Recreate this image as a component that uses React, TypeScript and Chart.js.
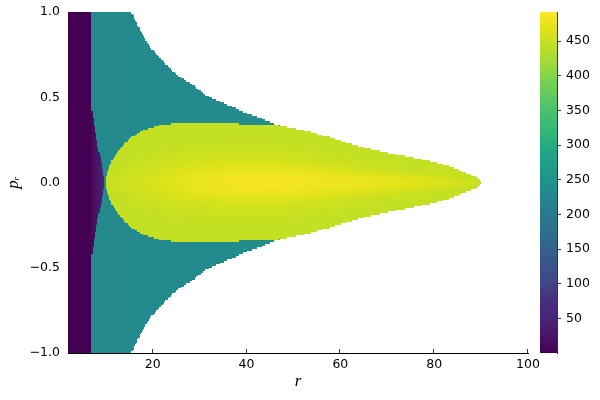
import React, { useEffect, useRef } from "react";
import { Chart, registerables } from "chart.js";

Chart.register(...registerables);

// ---------- axes / ticks ----------
const R_MIN = 1.94;
const R_MAX = 100;
const P_MIN = -1;
const P_MAX = 1;
const X_TICKS = [20, 40, 60, 80, 100];
const Y_TICKS = [-1, -0.5, 0, 0.5, 1];
const CB_TICKS = [50, 100, 150, 200, 250, 300, 350, 400, 450];
const CB_MIN = 0.4;
const CB_MAX = 491.8;

// ---------- heatmap data ----------
// cell grid resolution
const R_STEP = 0.25;
const P_STEP = 0.01;

// dark purple block for small r
const PURPLE_EDGE_R = 6.84;
const PURPLE_VALUE = 1;

// purple wedge: upper |p| edge vs r and its value
const WEDGE_R = [6.84, 7.4, 8.06, 8.6, 9.13, 9.5, 9.75];
const WEDGE_P = [0.46, 0.36, 0.25, 0.17, 0.11, 0.05, 0.0];
const WEDGE_VAL = [6, 14, 24, 33, 42, 50, 55];

// teal region: upper |p| edge vs r and its value
const OUTER_R = [15.4, 17.3, 19.4, 22.3, 25.1, 28.0, 31.5, 34.4, 37.2, 40.0, 42.9, 45.7, 47.2];
const OUTER_P = [1.0, 0.894, 0.796, 0.709, 0.63, 0.582, 0.51, 0.474, 0.441, 0.406, 0.377, 0.347, 0.336];
const TEAL_R = [6.84, 30, 40, 47.2];
const TEAL_VAL = [230, 232, 236, 242];

// yellow region: upper |p| edge vs r
const YEL_R = [9.83, 10.0, 10.3, 10.8, 11.6, 12.5, 13.5, 15.2, 18.0, 21.6, 24.4, 30, 37, 41.4, 46.5, 50.0, 52.8, 55.7, 58.5, 62, 65.6, 72.7, 79.8, 84, 86.9, 89.1, 90.1];
const YEL_P = [0.0, 0.03, 0.06, 0.1, 0.145, 0.18, 0.213, 0.259, 0.308, 0.337, 0.347, 0.349, 0.347, 0.341, 0.337, 0.318, 0.302, 0.279, 0.259, 0.229, 0.2, 0.161, 0.122, 0.088, 0.054, 0.034, 0.0];
// yellow values along the centre line (p = 0) and at the edge
const YC_R = [9.83, 15, 20, 25, 30, 40, 50, 60, 70, 80, 88, 90.1];
const YC_VAL = [450, 455, 462, 470, 478, 486, 485, 480, 474, 466, 456, 450];
const YEL_EDGE_VAL = 447;
// falloff from centre (t = |p| / edge) to edge
const PROF_T = [0, 0.1, 0.2, 0.3, 0.4, 0.55, 0.7, 1];
const PROF_W = [1, 0.93, 0.75, 0.5, 0.3, 0.12, 0.04, 0];

// ---------- colormap (viridis) ----------
const VIRIDIS = [
  "#440154", "#481467", "#482475", "#472d7b", "#414487", "#3b528b", "#355f8d",
  "#2d708e", "#2a788e", "#25858e", "#21918c", "#1f9e89", "#22a884", "#35b779",
  "#44bf70", "#5ec962", "#7ad151", "#a0da39", "#bddf26", "#dfe318", "#fde725",
];
const VIR_RGB = VIRIDIS.map((h) => [
  parseInt(h.slice(1, 3), 16),
  parseInt(h.slice(3, 5), 16),
  parseInt(h.slice(5, 7), 16),
]);
const colorCache = new Map<number, string>();
function colorFor(v: number): string {
  let t = (v - CB_MIN) / (CB_MAX - CB_MIN);
  t = Math.max(0, Math.min(1, t));
  const key = Math.round(t * 2000);
  const c = colorCache.get(key);
  if (c) return c;
  const f = (key / 2000) * (VIR_RGB.length - 1);
  const i = Math.min(VIR_RGB.length - 2, Math.floor(f));
  const u = f - i;
  const a = VIR_RGB[i], b = VIR_RGB[i + 1];
  const s = `rgb(${Math.round(a[0] + (b[0] - a[0]) * u)},${Math.round(a[1] + (b[1] - a[1]) * u)},${Math.round(a[2] + (b[2] - a[2]) * u)})`;
  colorCache.set(key, s);
  return s;
}

function interp(xs: number[], ys: number[], x: number): number {
  if (x <= xs[0]) return ys[0];
  const n = xs.length - 1;
  if (x >= xs[n]) return ys[n];
  for (let i = 0; i < n; i++) {
    if (x >= xs[i] && x <= xs[i + 1]) {
      const u = (x - xs[i]) / (xs[i + 1] - xs[i]);
      return ys[i] + (ys[i + 1] - ys[i]) * u;
    }
  }
  return ys[n];
}

function cellValue(r: number, p: number): number | null {
  const ap = Math.abs(p);
  if (r < PURPLE_EDGE_R) return PURPLE_VALUE;
  if (r >= YEL_R[0] && r <= YEL_R[YEL_R.length - 1]) {
    const yp = interp(YEL_R, YEL_P, r);
    if (ap <= yp) {
      const t = yp > 0 ? ap / yp : 0;
      const w = interp(PROF_T, PROF_W, t);
      const vc = interp(YC_R, YC_VAL, r);
      return YEL_EDGE_VAL + (vc - YEL_EDGE_VAL) * w;
    }
  }
  if (r <= WEDGE_R[WEDGE_R.length - 1]) {
    const wp = interp(WEDGE_R, WEDGE_P, r);
    if (ap <= wp) return interp(WEDGE_R, WEDGE_VAL, r);
  }
  if (r <= OUTER_R[OUTER_R.length - 1]) {
    const op = interp(OUTER_R, OUTER_P, r);
    if (ap <= op) return interp(TEAL_R, TEAL_VAL, r);
  }
  return null;
}

const heatmapPlugin = {
  id: "heatmap",
  beforeDatasetsDraw(chart: any) {
    const { ctx, chartArea } = chart;
    const xs = chart.scales.x;
    const ys = chart.scales.y;
    ctx.save();
    ctx.beginPath();
    ctx.rect(chartArea.left, chartArea.top, chartArea.right - chartArea.left, chartArea.bottom - chartArea.top);
    ctx.clip();
    const nR = Math.ceil((R_MAX - R_MIN) / R_STEP);
    const nP = Math.round((P_MAX - P_MIN) / P_STEP);
    const rowEdges: number[] = [];
    for (let j = 0; j <= nP; j++) rowEdges.push(Math.round(ys.getPixelForValue(P_MIN + j * P_STEP)));
    for (let i = 0; i < nR; i++) {
      const r0 = R_MIN + i * R_STEP;
      const r1 = Math.min(R_MAX, r0 + R_STEP);
      const rc = (r0 + r1) / 2;
      const x0 = Math.round(xs.getPixelForValue(r0));
      const x1 = Math.round(xs.getPixelForValue(r1));
      if (x1 <= x0) continue;
      let runColor: string | null = null;
      let runBottom = 0;
      let runTop = 0;
      for (let j = 0; j < nP; j++) {
        const pc = P_MIN + (j + 0.5) * P_STEP;
        const v = cellValue(rc, pc);
        const col = v == null ? null : colorFor(v);
        const yb = rowEdges[j];
        const yt = rowEdges[j + 1];
        if (col === runColor && col !== null) {
          runTop = yt;
        } else {
          if (runColor) {
            ctx.fillStyle = runColor;
            ctx.fillRect(x0, runTop, x1 - x0, runBottom - runTop);
          }
          runColor = col;
          runBottom = yb;
          runTop = yt;
        }
      }
      if (runColor) {
        ctx.fillStyle = runColor;
        ctx.fillRect(x0, runTop, x1 - x0, runBottom - runTop);
      }
    }
    ctx.restore();

    // colour bar, drawn through the colour-bar scale
    const cb = chart.scales.cb;
    const sp = chart.scales.sp;
    const left = sp.left + 12;
    const right = cb.left;
    const steps = 400;
    for (let k = 0; k < steps; k++) {
      const v0 = CB_MIN + (k * (CB_MAX - CB_MIN)) / steps;
      const v1 = CB_MIN + ((k + 1) * (CB_MAX - CB_MIN)) / steps;
      const yTop = Math.round(cb.getPixelForValue(v1));
      const yBot = Math.round(cb.getPixelForValue(v0));
      if (yBot <= yTop) continue;
      ctx.fillStyle = colorFor((v0 + v1) / 2);
      ctx.fillRect(left, yTop, right - left, yBot - yTop);
    }
  },
  afterDraw(chart: any) {
    const { ctx, chartArea } = chart;
    const xs = chart.scales.x;
    ctx.save();
    ctx.strokeStyle = "#333";
    ctx.lineWidth = 1;
    ctx.beginPath();
    for (const t of xs.ticks) {
      const px = Math.round(xs.getPixelForValue(t.value)) - 0.5;
      ctx.moveTo(px, chartArea.bottom);
      ctx.lineTo(px, chartArea.bottom - 4);
    }
    ctx.stroke();
    ctx.restore();
  },
};

const zeroPad = (s: any) => {
  s.paddingLeft = 0;
  s.paddingRight = 0;
  s.paddingTop = 0;
  s.paddingBottom = 0;
};

const TICK_FONT = { family: "'DejaVu Sans', sans-serif", size: 12.5 };
const TITLE_FONT = { family: "'Liberation Serif', 'DejaVu Serif', serif", style: "italic" as const, size: 17 };

export default function App() {
  const ref = useRef<HTMLCanvasElement>(null);
  useEffect(() => {
    const chart = new Chart(ref.current as HTMLCanvasElement, {
      type: "scatter",
      data: { datasets: [{ label: "heatmap", data: [] }] },
      options: {
        animation: false,
        responsive: false,
        layout: { padding: { top: 12, left: 0, right: 0, bottom: 0 } },
        plugins: { legend: { display: false }, tooltip: { enabled: false } },
        scales: {
          x: {
            type: "linear",
            position: "bottom",
            min: R_MIN,
            max: R_MAX,
            afterBuildTicks: (s: any) => {
              s.ticks = X_TICKS.map((v) => ({ value: v }));
            },
            afterFit: (s: any) => {
              s.height = 47;
              zeroPad(s);
            },
            grid: { display: false, drawTicks: false },
            border: { display: true, color: "#000", width: 1 },
            ticks: { padding: 4, color: "#000", font: TICK_FONT, maxRotation: 0, autoSkip: false, callback: (v: any) => String(v) },
            title: { display: true, text: "r", color: "#000", font: TITLE_FONT, padding: { top: 0, bottom: 8 } },
          },
          y: {
            type: "linear",
            position: "left",
            min: P_MIN,
            max: P_MAX,
            afterBuildTicks: (s: any) => {
              s.ticks = Y_TICKS.map((v) => ({ value: v }));
            },
            afterFit: (s: any) => {
              s.width = 68;
              zeroPad(s);
            },
            grid: { display: false, drawTicks: false },
            border: { display: true, color: "#000", width: 1 },
            ticks: {
              padding: 8,
              color: "#000",
              font: TICK_FONT,
              autoSkip: false,
              callback: (v: any) => (Number(v) < 0 ? "\u2212" : "") + Math.abs(Number(v)).toFixed(1),
            },
            title: { display: true, text: "p\u1D63", color: "#000", font: TITLE_FONT, padding: { top: 3, bottom: 0 } },
          },
          sp: {
            type: "linear",
            position: "right",
            weight: 0,
            afterFit: (s: any) => {
              s.width = 29;
              zeroPad(s);
            },
            grid: { display: false, drawTicks: false },
            border: { display: false },
            ticks: { display: false },
          },
          cb: {
            type: "linear",
            position: "right",
            weight: 1,
            min: CB_MIN,
            max: CB_MAX,
            afterBuildTicks: (s: any) => {
              s.ticks = CB_TICKS.map((v) => ({ value: v }));
            },
            afterFit: (s: any) => {
              s.width = 43;
              zeroPad(s);
            },
            grid: { display: true, drawOnChartArea: false, drawTicks: true, tickLength: 4, color: "#333" },
            border: { display: true, color: "#333", width: 1 },
            ticks: { padding: 5, color: "#000", font: TICK_FONT, autoSkip: false, callback: (v: any) => String(v) },
          },
        },
      } as any,
      plugins: [heatmapPlugin],
    });
    return () => chart.destroy();
  }, []);
  return (
    <div style={{ position: "absolute", left: 0, top: 0, width: 600, height: 400, background: "#fff" }}>
      <canvas ref={ref} width={600} height={400} style={{ display: "block", width: 600, height: 400 }} />
    </div>
  );
}
